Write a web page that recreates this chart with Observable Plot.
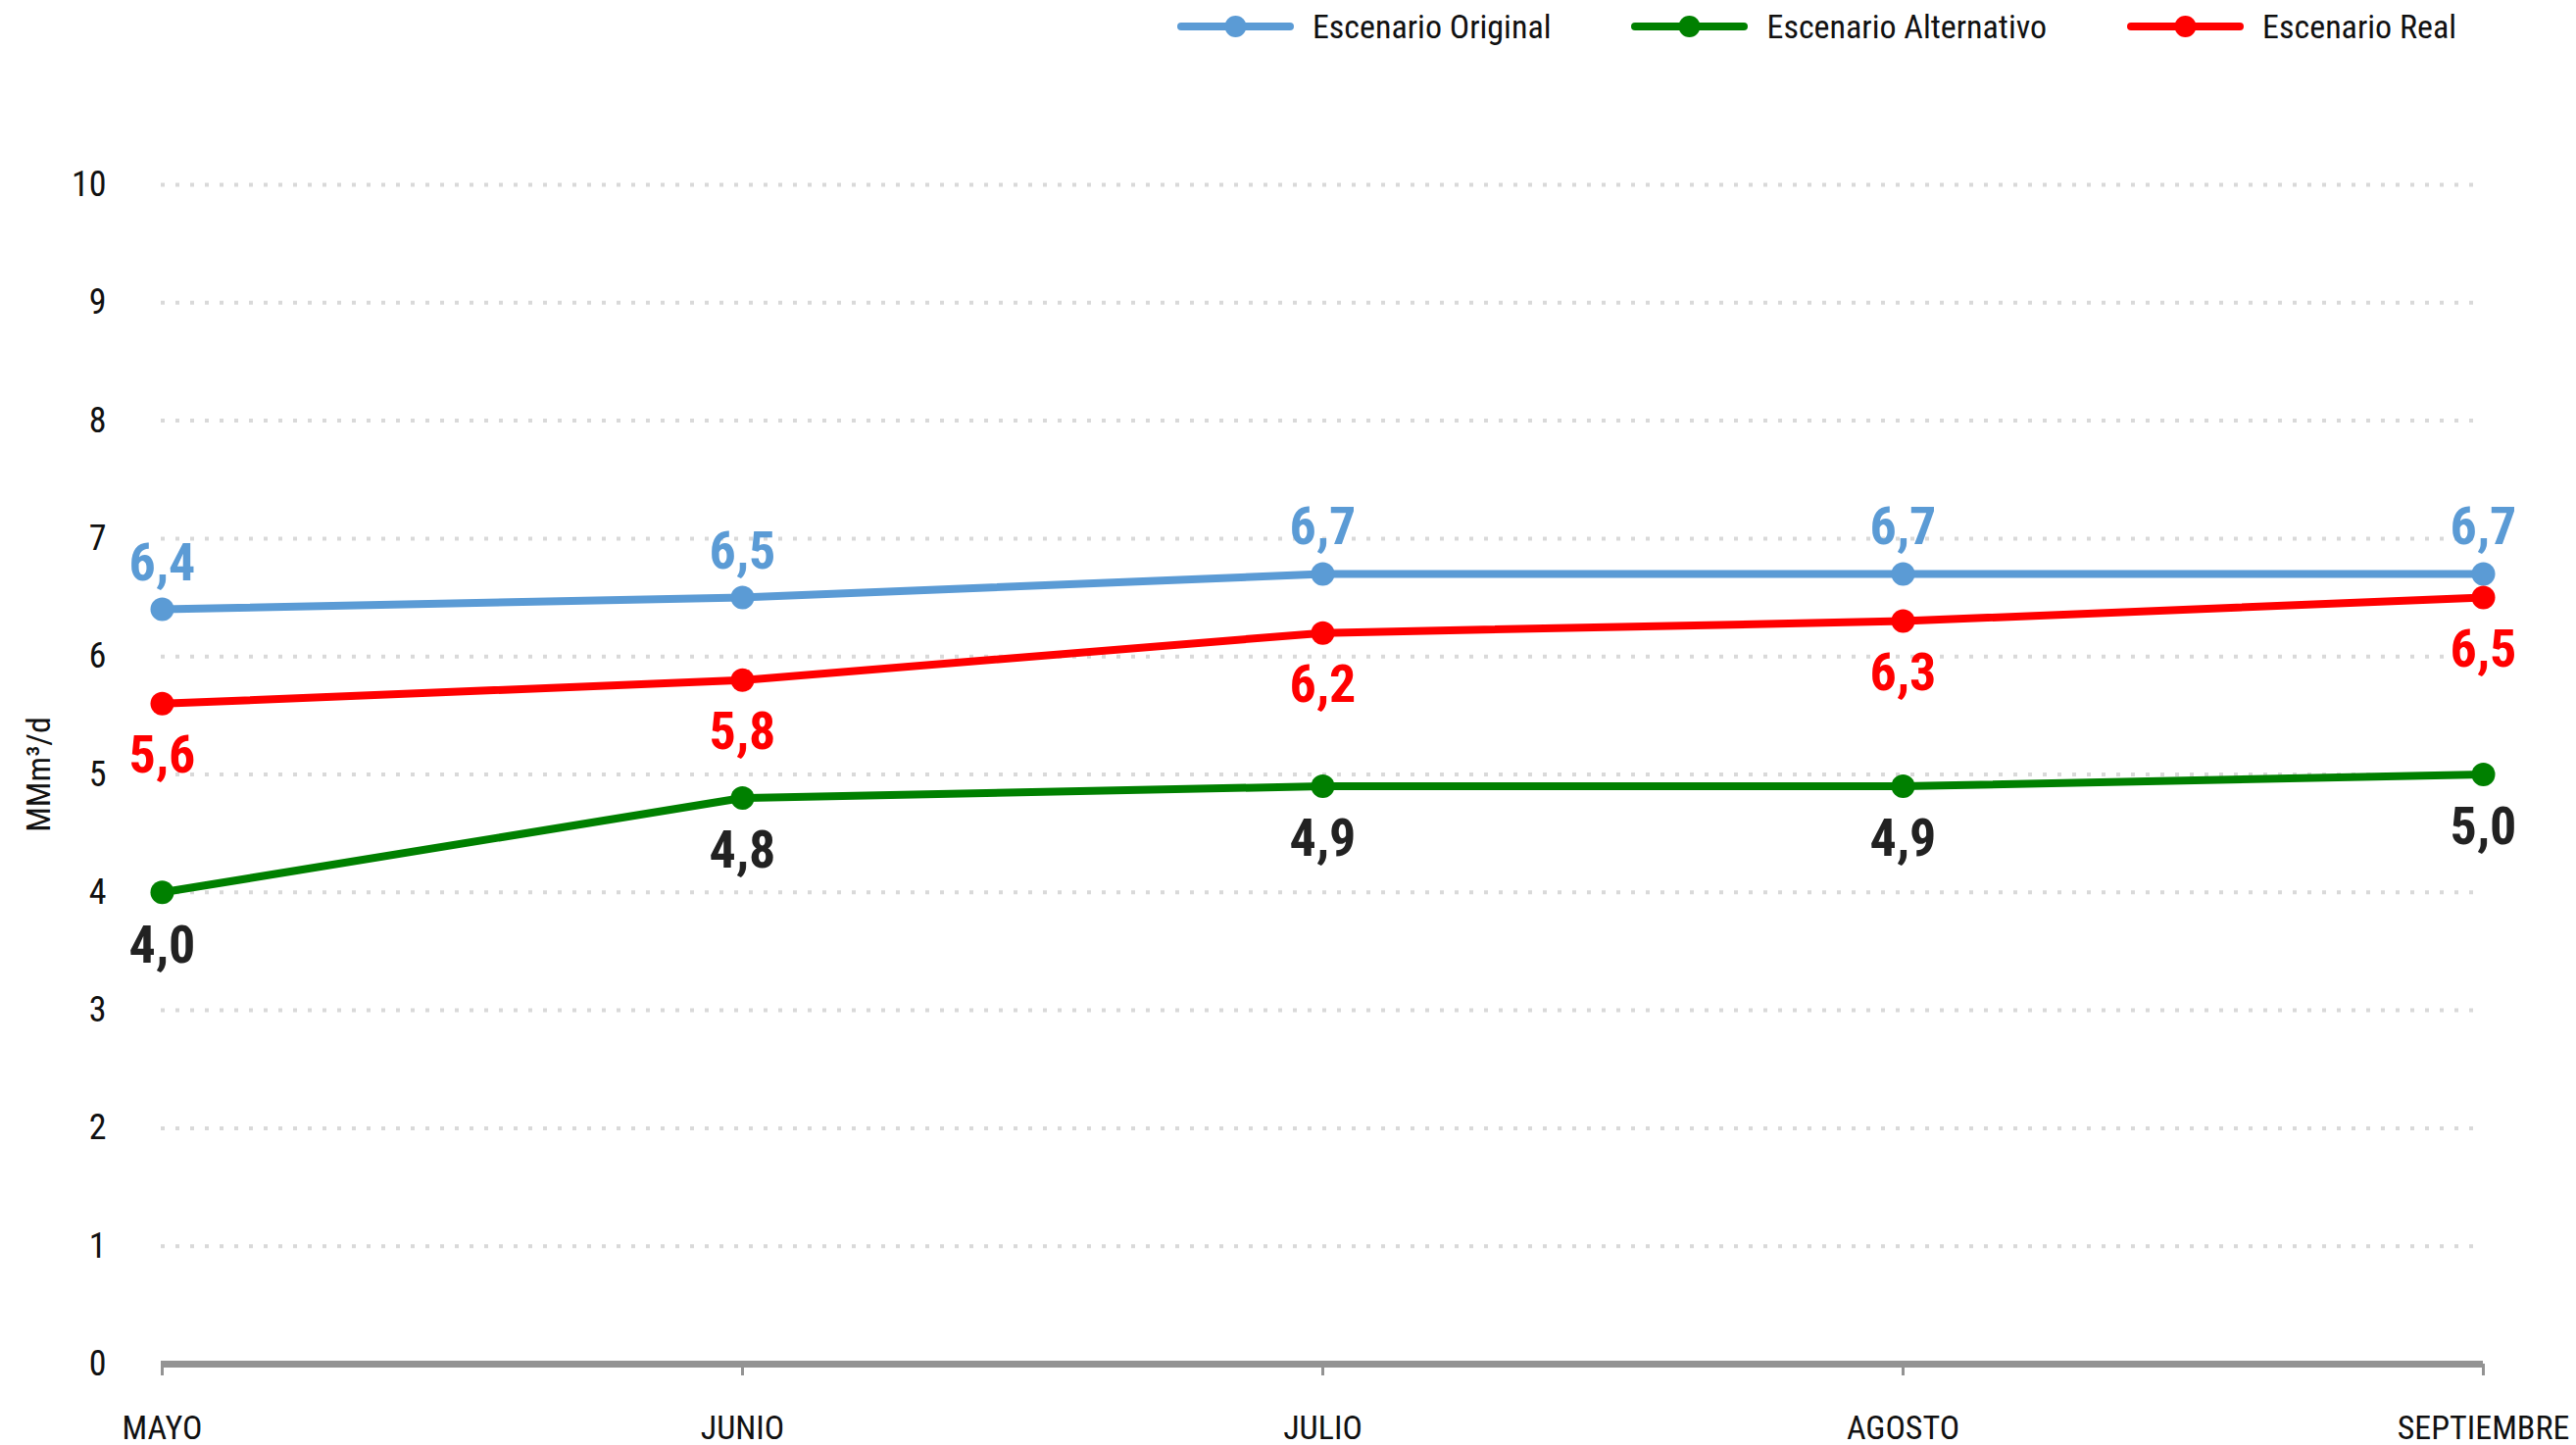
<!DOCTYPE html>
<html><head><meta charset="utf-8">
<script src="https://cdn.jsdelivr.net/npm/d3@7"></script>
<script src="https://cdn.jsdelivr.net/npm/@observablehq/plot@0.6"></script>
<style>
body{margin:0;background:#fff;font-family:"Liberation Sans Narrow","Roboto Condensed","DejaVu Sans Condensed",sans-serif;}
#legend{height:56px;box-sizing:border-box;padding-bottom:2px;display:flex;justify-content:flex-end;align-items:center;padding-right:122px;gap:82px;}
.item{display:flex;align-items:center;font-size:34px;color:#111;}
.item svg{margin-right:19px;}
</style></head><body>
<div id="legend"></div><div id="chart"></div>
<script>
const months = ["MAYO","JUNIO","JULIO","AGOSTO","SEPTIEMBRE"];
const seriesNames = ["Escenario Original","Escenario Alternativo","Escenario Real"];
const original = [6.4, 6.5, 6.7, 6.7, 6.7];
const alternativo = [4.0, 4.8, 4.9, 4.9, 5.0];
const real = [5.6, 5.8, 6.2, 6.3, 6.5];
const yTicks = [0,1,2,3,4,5,6,7,8,9,10];
const yLabel = "MMm³/d";
const colors = ["#5b9bd5","#008000","#ff0000"];
const labelColors = ["#5b9bd5","#222222","#ff0000"];

const font = '"Liberation Sans Narrow","Roboto Condensed","DejaVu Sans Condensed",sans-serif';
const valuesBySeries = [original, alternativo, real];
const data = [];
seriesNames.forEach((s,i)=>months.forEach((m,j)=>data.push({series:s, idx:i, month:m, value:valuesBySeries[i][j]})));
const fmt = v => v.toFixed(1).replace(".", ",");

// legend
const legend = document.getElementById("legend");
seriesNames.forEach((s,i)=>{
  const it = document.createElement("div"); it.className="item";
  it.innerHTML = `<svg width="119" height="30"><line x1="4" y1="15" x2="115" y2="15" stroke="${colors[i]}" stroke-width="8" stroke-linecap="round"/><circle cx="59.5" cy="15" r="11" fill="${colors[i]}"/></svg><span>${s}</span>`;
  legend.appendChild(it);
});

const labelOpts = [
  {lineAnchor:"bottom", dy:-30},
  {lineAnchor:"top", dy:33},
  {lineAnchor:"top", dy:32}
];

const plot = Plot.plot({
  width:2628, height:1418,
  marginTop:132, marginBottom:83, marginLeft:164, marginRight:95,
  style:{fontFamily:font, background:"#fff", overflow:"visible"},
  x:{type:"point", domain:months, padding:0, label:null},
  y:{domain:[0,10], ticks:yTicks, label:null},
  color:{domain:seriesNames, range:colors},
  marks:[
    Plot.ruleY(yTicks.filter(d=>d>0), {stroke:"#d9d9d9", strokeWidth:4, strokeDasharray:"4,11"}),
    Plot.ruleY([0], {stroke:"#939393", strokeWidth:7}),
    Plot.axisX({tickSize:12, tickPadding:40, fontSize:34, stroke:"#939393", strokeWidth:3, fill:"#111"}),
    Plot.axisY({ticks:yTicks, tickSize:0, tickPadding:56, fontSize:36, fill:"#111"}),
    Plot.text([yLabel], {frameAnchor:"left", textAnchor:"middle", rotate:-90, dx:-124, fontSize:34, fill:"#111"}),
    Plot.line(data, {x:"month", y:"value", z:"series", stroke:"series", strokeWidth:8}),
    Plot.dot(data, {x:"month", y:"value", fill:"series", r:12}),
    ...seriesNames.map((s,i)=>Plot.text(data.filter(d=>d.idx===i), {
      x:"month", y:"value", text:d=>fmt(d.value), fill:labelColors[i],
      fontWeight:"bold", fontSize:54, ...labelOpts[i]
    }))
  ]
});
document.getElementById("chart").appendChild(plot);
</script>
</body></html>
